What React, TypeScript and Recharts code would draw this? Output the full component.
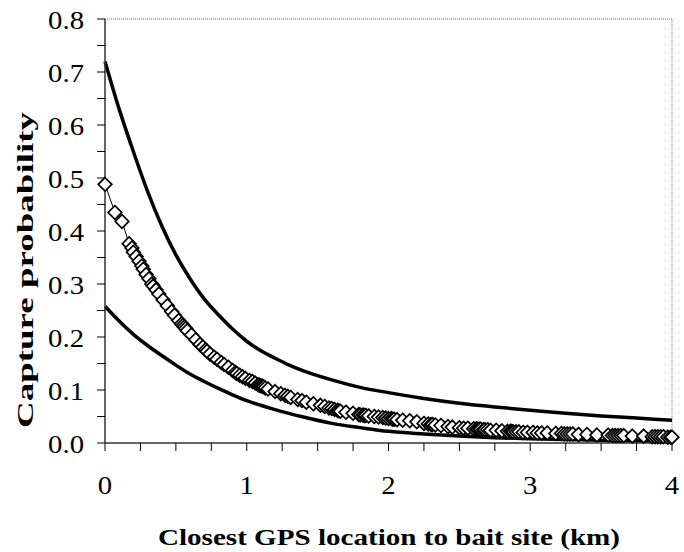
import {
  ComposedChart,
  Line,
  ReferenceLine,
  Scatter,
  XAxis,
  YAxis,
} from "recharts";

// x = closest GPS location to bait site (km), y = capture probability
const upperX = [0, 0.1, 0.2, 0.3, 0.4, 0.5, 0.6, 0.7, 0.8, 0.9, 1.0, 1.1, 1.2, 1.3, 1.4, 1.6, 1.8, 2.0, 2.25, 2.5, 2.75, 3.0, 3.25, 3.5, 3.75, 4.0];
const upperY = [0.72, 0.63, 0.55, 0.475, 0.41, 0.355, 0.31, 0.272, 0.242, 0.215, 0.192, 0.174, 0.16, 0.147, 0.136, 0.119, 0.105, 0.095, 0.084, 0.075, 0.068, 0.062, 0.056, 0.051, 0.047, 0.043];

const lowerX = [0, 0.1, 0.2, 0.3, 0.4, 0.5, 0.6, 0.7, 0.8, 0.9, 1.0, 1.2, 1.4, 1.6, 1.8, 2.0, 2.25, 2.5, 2.75, 3.0, 3.5, 4.0];
const lowerY = [0.258, 0.23, 0.205, 0.184, 0.165, 0.147, 0.13, 0.116, 0.103, 0.091, 0.08, 0.063, 0.049, 0.037, 0.029, 0.022, 0.017, 0.013, 0.01, 0.008, 0.005, 0.003];

const fitX = [
  0, 0.07, 0.12, 0.17, 0.19, 0.2, 0.22, 0.24, 0.26, 0.27, 0.29, 0.31, 0.33, 0.34, 0.36, 0.38,
  0.41, 0.44, 0.47, 0.49, 0.52, 0.54, 0.55, 0.56, 0.57, 0.58, 0.61, 0.64, 0.67, 0.69, 0.71, 0.72,
  0.74, 0.77, 0.79, 0.82, 0.84, 0.87, 0.9, 0.92, 0.93, 0.95, 0.97, 0.99,
  1.02, 1.04, 1.06, 1.08, 1.09, 1.1, 1.11, 1.12, 1.13, 1.15, 1.2, 1.24, 1.27, 1.29, 1.31, 1.36, 1.39, 1.42, 1.47,
  1.52, 1.55, 1.58, 1.6, 1.62, 1.64, 1.65, 1.66, 1.7, 1.75, 1.79, 1.8, 1.82, 1.83, 1.84, 1.86, 1.9, 1.93, 1.96, 1.98,
  2.0, 2.02, 2.03, 2.04, 2.06, 2.1, 2.15, 2.2, 2.25, 2.28, 2.3, 2.31, 2.33, 2.37, 2.42, 2.45, 2.5,
  2.53, 2.56, 2.6, 2.62, 2.63, 2.64, 2.65, 2.67, 2.68, 2.7, 2.72, 2.76, 2.8, 2.84, 2.86, 2.87, 2.88, 2.9, 2.92, 2.95, 2.98,
  3.02, 3.05, 3.08, 3.12, 3.18, 3.22, 3.24, 3.26, 3.28, 3.3, 3.34, 3.4, 3.47, 3.55, 3.58, 3.6, 3.62, 3.64, 3.66, 3.72,
  3.8, 3.86, 3.88, 3.9, 3.92, 3.94, 3.97, 3.99, 4.0,
];
const fitY = [
  0.488, 0.435, 0.418, 0.376, 0.368, 0.36, 0.352, 0.343, 0.334, 0.328, 0.318, 0.31, 0.3, 0.296, 0.289, 0.281,
  0.27, 0.259, 0.248, 0.241, 0.231, 0.225, 0.222, 0.219, 0.216, 0.212, 0.204, 0.195, 0.186, 0.181, 0.176, 0.173,
  0.168, 0.162, 0.158, 0.152, 0.148, 0.143, 0.137, 0.133, 0.131, 0.128, 0.125, 0.122,
  0.118, 0.116, 0.113, 0.11, 0.109, 0.108, 0.107, 0.106, 0.104, 0.102, 0.097, 0.093, 0.09, 0.088, 0.086, 0.082, 0.08, 0.077, 0.074,
  0.071, 0.069, 0.066, 0.065, 0.063, 0.062, 0.061, 0.06, 0.058, 0.056, 0.054, 0.053, 0.053, 0.052, 0.052, 0.051, 0.05, 0.049, 0.048, 0.047,
  0.046, 0.046, 0.045, 0.045, 0.044, 0.043, 0.042, 0.04, 0.037, 0.036, 0.035, 0.035, 0.034, 0.033, 0.031, 0.03, 0.029,
  0.028, 0.028, 0.027, 0.027, 0.026, 0.026, 0.026, 0.025, 0.025, 0.025, 0.024, 0.024, 0.023, 0.022, 0.022, 0.022, 0.021, 0.021, 0.021, 0.02, 0.02,
  0.02, 0.019, 0.019, 0.019, 0.018, 0.018, 0.017, 0.017, 0.017, 0.017, 0.016, 0.016, 0.015, 0.015, 0.014, 0.014, 0.014, 0.014, 0.014, 0.013,
  0.013, 0.012, 0.012, 0.012, 0.012, 0.012, 0.011, 0.011, 0.011,
];

const xTicks = [0, 0.25, 0.5, 0.75, 1, 1.25, 1.5, 1.75, 2, 2.25, 2.5, 2.75, 3, 3.25, 3.5, 3.75, 4];
const yTicks = [0, 0.05, 0.1, 0.15, 0.2, 0.25, 0.3, 0.35, 0.4, 0.45, 0.5, 0.55, 0.6, 0.65, 0.7, 0.75, 0.8];

const toRows = (xs: number[], ys: number[]) => xs.map((x, i) => ({ x, y: ys[i] }));
const upper = toRows(upperX, upperY);
const lower = toRows(lowerX, lowerY);
const fitted = toRows(fitX, fitY);

const FONT = '"Liberation Serif", "Times New Roman", serif';
const TICK_SIZE = 25;

// the scan is a little wider than it is tall, so text gets stretched a bit
const stretchedWidth = (s: string) =>
  [...s].reduce((w, ch) => w + (ch === "." ? 0.25 : 0.5), 0) * TICK_SIZE * 1.15;

function YTick({ x, y, payload }: any) {
  const v = payload.value as number;
  if (Math.round(v * 100) % 10 !== 0) return null;
  const s = v.toFixed(1);
  return (
    <text x={x} y={y} dy={10} textAnchor="end" fontFamily={FONT} fontSize={TICK_SIZE} fill="#000"
      textLength={stretchedWidth(s)} lengthAdjust="spacingAndGlyphs">
      {s}
    </text>
  );
}

function XTick({ x, y, payload }: any) {
  const v = payload.value as number;
  if (!Number.isInteger(v)) return null;
  const s = String(v);
  return (
    <text x={x} y={y} dy={10} textAnchor="middle" fontFamily={FONT} fontSize={TICK_SIZE} fill="#000"
      textLength={stretchedWidth(s)} lengthAdjust="spacingAndGlyphs">
      {s}
    </text>
  );
}

function Diamond({ cx, cy }: any) {
  if (cx == null || cy == null) return null;
  const r = 6.8;
  return (
    <polygon
      points={`${cx},${cy - r} ${cx + r},${cy} ${cx},${cy + r} ${cx - r},${cy}`}
      fill="#fff"
      stroke="#000"
      strokeWidth={1.7}
    />
  );
}

const xLabel = () => (
  <text x={389} y={545} textAnchor="middle" fontFamily={FONT} fontSize={23} fontWeight="bold"
    textLength={462} lengthAdjust="spacingAndGlyphs">
    Closest GPS  location to bait site (km)
  </text>
);

const yLabel = () => (
  <text x={33} y={270} transform="rotate(-90 33 270)" textAnchor="middle" fontFamily={FONT}
    fontSize={24} fontWeight="bold" textLength={316} lengthAdjust="spacingAndGlyphs">
    Capture probability
  </text>
);

export default function App() {
  return (
    <div style={{ position: "absolute", left: 0, top: 0, background: "#fff" }}>
      <ComposedChart width={684} height={552} margin={{ top: 19, right: 12, bottom: 0, left: 0 }}>
        <XAxis
          type="number"
          dataKey="x"
          domain={[0, 4]}
          ticks={xTicks}
          interval={0}
          height={109}
          tickSize={8}
          tickMargin={33}
          tick={<XTick />}
          tickLine={{ stroke: "#000" }}
          axisLine={{ stroke: "#333", strokeWidth: 1.5 }}
          label={{ content: xLabel }}
        />
        <YAxis
          type="number"
          dataKey="y"
          domain={[0, 0.8]}
          ticks={yTicks}
          interval={0}
          width={105}
          tickSize={8}
          tickMargin={13}
          tick={<YTick />}
          tickLine={{ stroke: "#000" }}
          axisLine={{ stroke: "#333", strokeWidth: 1.5 }}
          label={{ content: yLabel }}
        />
        <ReferenceLine y={0.8} stroke="#777" strokeDasharray="1 1" />
        <ReferenceLine x={4} stroke="#777" strokeDasharray="1 1" />
        <Line data={upper} dataKey="y" type="monotone" stroke="#000" strokeWidth={3.5} dot={false} isAnimationActive={false} />
        <Line data={lower} dataKey="y" type="monotone" stroke="#000" strokeWidth={3.5} dot={false} isAnimationActive={false} />
        <Scatter
          data={fitted}
          dataKey="y"
          line={{ stroke: "#000", strokeWidth: 1 }}
          shape={<Diamond />}
          isAnimationActive={false}
        />
      </ComposedChart>
    </div>
  );
}
